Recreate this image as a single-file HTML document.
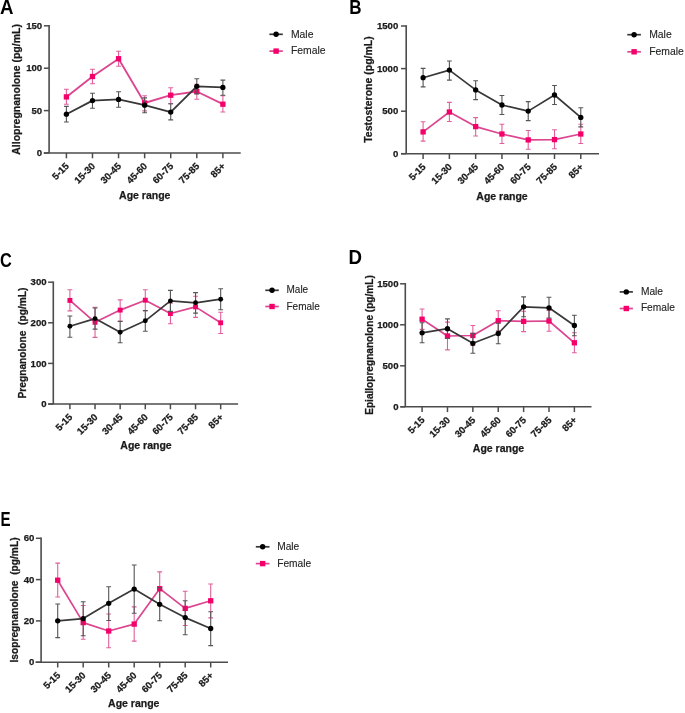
<!DOCTYPE html>
<html><head><meta charset="utf-8"><style>
html,body{margin:0;padding:0;background:#fff;}
body{width:685px;height:713px;overflow:hidden;}
svg{display:block;font-family:"Liberation Sans", sans-serif;filter:blur(0.45px);}
.t{stroke:#1a1a1a;stroke-width:0.25px;}
.l{stroke:#262626;stroke-width:0.12px;}
</style></head><body>
<svg width="685" height="713" viewBox="0 0 685 713">
<rect width="685" height="713" fill="#fff"/>
<text transform="translate(0 13.8) scale(1.1 1.17)" font-size="17" font-weight="bold" fill="#000">A</text>
<path d="M49.1 25.05V153M43.8 153H240.7" stroke="#4c4c4c" stroke-width="1.6" fill="none"/>
<path d="M43.9 25.8H49.1" stroke="#4c4c4c" stroke-width="1.5"/>
<text x="42.2" y="28.9" text-anchor="end" font-size="9.6" font-weight="bold" fill="#1a1a1a" class="t">150</text>
<path d="M43.9 68.2H49.1" stroke="#4c4c4c" stroke-width="1.5"/>
<text x="42.2" y="71.3" text-anchor="end" font-size="9.6" font-weight="bold" fill="#1a1a1a" class="t">100</text>
<path d="M43.9 110.6H49.1" stroke="#4c4c4c" stroke-width="1.5"/>
<text x="42.2" y="113.7" text-anchor="end" font-size="9.6" font-weight="bold" fill="#1a1a1a" class="t">50</text>
<path d="M43.9 153H49.1" stroke="#4c4c4c" stroke-width="1.5"/>
<text x="42.2" y="156.1" text-anchor="end" font-size="9.6" font-weight="bold" fill="#1a1a1a" class="t">0</text>
<path d="M66.4 153V158.3" stroke="#4c4c4c" stroke-width="1.5"/>
<text transform="translate(69.6 166.8) rotate(-45)" text-anchor="end" font-size="9.6" font-weight="bold" fill="#1a1a1a" class="t">5-15</text>
<path d="M92.48 153V158.3" stroke="#4c4c4c" stroke-width="1.5"/>
<text transform="translate(95.68 166.8) rotate(-45)" text-anchor="end" font-size="9.6" font-weight="bold" fill="#1a1a1a" class="t">15-30</text>
<path d="M118.56 153V158.3" stroke="#4c4c4c" stroke-width="1.5"/>
<text transform="translate(121.76 166.8) rotate(-45)" text-anchor="end" font-size="9.6" font-weight="bold" fill="#1a1a1a" class="t">30-45</text>
<path d="M144.64 153V158.3" stroke="#4c4c4c" stroke-width="1.5"/>
<text transform="translate(147.84 166.8) rotate(-45)" text-anchor="end" font-size="9.6" font-weight="bold" fill="#1a1a1a" class="t">45-60</text>
<path d="M170.72 153V158.3" stroke="#4c4c4c" stroke-width="1.5"/>
<text transform="translate(173.92 166.8) rotate(-45)" text-anchor="end" font-size="9.6" font-weight="bold" fill="#1a1a1a" class="t">60-75</text>
<path d="M196.8 153V158.3" stroke="#4c4c4c" stroke-width="1.5"/>
<text transform="translate(200 166.8) rotate(-45)" text-anchor="end" font-size="9.6" font-weight="bold" fill="#1a1a1a" class="t">75-85</text>
<path d="M222.88 153V158.3" stroke="#4c4c4c" stroke-width="1.5"/>
<text transform="translate(226.08 166.8) rotate(-45)" text-anchor="end" font-size="9.6" font-weight="bold" fill="#1a1a1a" class="t">85+</text>
<text transform="translate(20 89.4) rotate(-90)" text-anchor="middle" font-size="10.5" font-weight="bold" fill="#1a1a1a" class="t" xml:space="preserve">Allopregnanolone (pg/mL)</text>
<text x="144.8" y="198.6" text-anchor="middle" font-size="10.5" font-weight="bold" fill="#1a1a1a" class="t">Age range</text>
<path d="M66.4 89.3V104.2M64 89.3H68.8M64 104.2H68.8M92.48 69.2V83.8M90.08 69.2H94.88M90.08 83.8H94.88M118.56 51.2V66.3M116.16 51.2H120.96M116.16 66.3H120.96M144.64 95.8V110.9M142.24 95.8H147.04M142.24 110.9H147.04M170.72 87.7V103.8M168.32 87.7H173.12M168.32 103.8H173.12M196.8 84.3V99.2M194.4 84.3H199.2M194.4 99.2H199.2M222.88 95.8V112M220.48 95.8H225.28M220.48 112H225.28" stroke="#E0609E" stroke-width="1.1" fill="none"/>
<polyline points="66.4,96.9 92.48,76.5 118.56,58.7 144.64,103 170.72,95.2 196.8,91.5 222.88,104.2" stroke="#DC4590" stroke-width="1.85" fill="none" stroke-linejoin="round"/>
<rect x="63.75" y="94.25" width="5.3" height="5.3" fill="#F5006A"/>
<rect x="89.83" y="73.85" width="5.3" height="5.3" fill="#F5006A"/>
<rect x="115.91" y="56.05" width="5.3" height="5.3" fill="#F5006A"/>
<rect x="141.99" y="100.35" width="5.3" height="5.3" fill="#F5006A"/>
<rect x="168.07" y="92.55" width="5.3" height="5.3" fill="#F5006A"/>
<rect x="194.15" y="88.85" width="5.3" height="5.3" fill="#F5006A"/>
<rect x="220.23" y="101.55" width="5.3" height="5.3" fill="#F5006A"/>
<path d="M66.4 106.4V122M64 106.4H68.8M64 122H68.8M92.48 93.3V108.2M90.08 93.3H94.88M90.08 108.2H94.88M118.56 91.8V107.2M116.16 91.8H120.96M116.16 107.2H120.96M144.64 97.9V112.8M142.24 97.9H147.04M142.24 112.8H147.04M170.72 103.8V119.9M168.32 103.8H173.12M168.32 119.9H173.12M196.8 78.7V93.9M194.4 78.7H199.2M194.4 93.9H199.2M222.88 80.1V95.2M220.48 80.1H225.28M220.48 95.2H225.28" stroke="#555" stroke-width="1.1" fill="none"/>
<polyline points="66.4,114.2 92.48,100.6 118.56,99.4 144.64,105.2 170.72,112.1 196.8,86.3 222.88,87.4" stroke="#383838" stroke-width="1.85" fill="none" stroke-linejoin="round"/>
<circle cx="66.4" cy="114.2" r="2.65" fill="#000"/>
<circle cx="92.48" cy="100.6" r="2.65" fill="#000"/>
<circle cx="118.56" cy="99.4" r="2.65" fill="#000"/>
<circle cx="144.64" cy="105.2" r="2.65" fill="#000"/>
<circle cx="170.72" cy="112.1" r="2.65" fill="#000"/>
<circle cx="196.8" cy="86.3" r="2.65" fill="#000"/>
<circle cx="222.88" cy="87.4" r="2.65" fill="#000"/>
<path d="M269.4 34.3H282.8" stroke="#383838" stroke-width="1.7"/>
<circle cx="276.1" cy="34.3" r="2.7" fill="#000"/>
<path d="M269.4 51.1H282.8" stroke="#DC4590" stroke-width="1.7"/>
<rect x="273.4" y="48.4" width="5.4" height="5.4" fill="#F5006A"/>
<text x="290.9" y="37.6" font-size="10.4" fill="#262626" class="l">Male</text>
<text x="290.9" y="54.4" font-size="10.4" fill="#262626" class="l">Female</text>
<text transform="translate(349.2 14.1) scale(1.0 1.17)" font-size="17" font-weight="bold" fill="#000">B</text>
<path d="M406.2 25.25V153.7M401 153.7H599" stroke="#4c4c4c" stroke-width="1.6" fill="none"/>
<path d="M401 26H406.2" stroke="#4c4c4c" stroke-width="1.5"/>
<text x="398.3" y="29.1" text-anchor="end" font-size="9.6" font-weight="bold" fill="#1a1a1a" class="t">1500</text>
<path d="M401 68.6H406.2" stroke="#4c4c4c" stroke-width="1.5"/>
<text x="398.3" y="71.7" text-anchor="end" font-size="9.6" font-weight="bold" fill="#1a1a1a" class="t">1000</text>
<path d="M401 111.2H406.2" stroke="#4c4c4c" stroke-width="1.5"/>
<text x="398.3" y="114.3" text-anchor="end" font-size="9.6" font-weight="bold" fill="#1a1a1a" class="t">500</text>
<path d="M401 153.7H406.2" stroke="#4c4c4c" stroke-width="1.5"/>
<text x="398.3" y="156.8" text-anchor="end" font-size="9.6" font-weight="bold" fill="#1a1a1a" class="t">0</text>
<path d="M423.1 153.7V159" stroke="#4c4c4c" stroke-width="1.5"/>
<text transform="translate(426.3 167.5) rotate(-45)" text-anchor="end" font-size="9.6" font-weight="bold" fill="#1a1a1a" class="t">5-15</text>
<path d="M449.38 153.7V159" stroke="#4c4c4c" stroke-width="1.5"/>
<text transform="translate(452.58 167.5) rotate(-45)" text-anchor="end" font-size="9.6" font-weight="bold" fill="#1a1a1a" class="t">15-30</text>
<path d="M475.66 153.7V159" stroke="#4c4c4c" stroke-width="1.5"/>
<text transform="translate(478.86 167.5) rotate(-45)" text-anchor="end" font-size="9.6" font-weight="bold" fill="#1a1a1a" class="t">30-45</text>
<path d="M501.94 153.7V159" stroke="#4c4c4c" stroke-width="1.5"/>
<text transform="translate(505.14 167.5) rotate(-45)" text-anchor="end" font-size="9.6" font-weight="bold" fill="#1a1a1a" class="t">45-60</text>
<path d="M528.22 153.7V159" stroke="#4c4c4c" stroke-width="1.5"/>
<text transform="translate(531.42 167.5) rotate(-45)" text-anchor="end" font-size="9.6" font-weight="bold" fill="#1a1a1a" class="t">60-75</text>
<path d="M554.5 153.7V159" stroke="#4c4c4c" stroke-width="1.5"/>
<text transform="translate(557.7 167.5) rotate(-45)" text-anchor="end" font-size="9.6" font-weight="bold" fill="#1a1a1a" class="t">75-85</text>
<path d="M580.78 153.7V159" stroke="#4c4c4c" stroke-width="1.5"/>
<text transform="translate(583.98 167.5) rotate(-45)" text-anchor="end" font-size="9.6" font-weight="bold" fill="#1a1a1a" class="t">85+</text>
<text transform="translate(371.9 89.5) rotate(-90)" text-anchor="middle" font-size="10.5" font-weight="bold" fill="#1a1a1a" class="t" xml:space="preserve">Testosterone (pg/mL)</text>
<text x="502" y="200.4" text-anchor="middle" font-size="10.5" font-weight="bold" fill="#1a1a1a" class="t">Age range</text>
<path d="M423.1 121.8V141.1M420.7 121.8H425.5M420.7 141.1H425.5M449.38 102.4V121.5M446.98 102.4H451.78M446.98 121.5H451.78M475.66 117.6V136M473.26 117.6H478.06M473.26 136H478.06M501.94 124.2V143.5M499.54 124.2H504.34M499.54 143.5H504.34M528.22 130.5V149.3M525.82 130.5H530.62M525.82 149.3H530.62M554.5 129.8V148.8M552.1 129.8H556.9M552.1 148.8H556.9M580.78 124.2V143.5M578.38 124.2H583.18M578.38 143.5H583.18" stroke="#E0609E" stroke-width="1.1" fill="none"/>
<polyline points="423.1,131.9 449.38,112 475.66,126.6 501.94,134 528.22,139.9 554.5,139.6 580.78,134" stroke="#DC4590" stroke-width="1.7" fill="none" stroke-linejoin="round"/>
<rect x="420.45" y="129.25" width="5.3" height="5.3" fill="#F5006A"/>
<rect x="446.73" y="109.35" width="5.3" height="5.3" fill="#F5006A"/>
<rect x="473.01" y="123.95" width="5.3" height="5.3" fill="#F5006A"/>
<rect x="499.29" y="131.35" width="5.3" height="5.3" fill="#F5006A"/>
<rect x="525.57" y="137.25" width="5.3" height="5.3" fill="#F5006A"/>
<rect x="551.85" y="136.95" width="5.3" height="5.3" fill="#F5006A"/>
<rect x="578.13" y="131.35" width="5.3" height="5.3" fill="#F5006A"/>
<path d="M423.1 68.4V86.9M420.7 68.4H425.5M420.7 86.9H425.5M449.38 61V80.1M446.98 61H451.78M446.98 80.1H451.78M475.66 80.7V99.6M473.26 80.7H478.06M473.26 99.6H478.06M501.94 95.5V114.5M499.54 95.5H504.34M499.54 114.5H504.34M528.22 101.6V120.6M525.82 101.6H530.62M525.82 120.6H530.62M554.5 85.5V104.5M552.1 85.5H556.9M552.1 104.5H556.9M580.78 107.7V126.9M578.38 107.7H583.18M578.38 126.9H583.18" stroke="#555" stroke-width="1.1" fill="none"/>
<polyline points="423.1,77.7 449.38,70.1 475.66,89.9 501.94,105 528.22,111.1 554.5,95 580.78,117.4" stroke="#383838" stroke-width="1.7" fill="none" stroke-linejoin="round"/>
<circle cx="423.1" cy="77.7" r="2.65" fill="#000"/>
<circle cx="449.38" cy="70.1" r="2.65" fill="#000"/>
<circle cx="475.66" cy="89.9" r="2.65" fill="#000"/>
<circle cx="501.94" cy="105" r="2.65" fill="#000"/>
<circle cx="528.22" cy="111.1" r="2.65" fill="#000"/>
<circle cx="554.5" cy="95" r="2.65" fill="#000"/>
<circle cx="580.78" cy="117.4" r="2.65" fill="#000"/>
<path d="M627.3 34.7H640.9" stroke="#383838" stroke-width="1.7"/>
<circle cx="634.1" cy="34.7" r="2.7" fill="#000"/>
<path d="M627.3 51.8H640.9" stroke="#DC4590" stroke-width="1.7"/>
<rect x="631.4" y="49.1" width="5.4" height="5.4" fill="#F5006A"/>
<text x="649.2" y="38.1" font-size="10.4" fill="#262626" class="l">Male</text>
<text x="649.2" y="54.9" font-size="10.4" fill="#262626" class="l">Female</text>
<text transform="translate(0 267.4) scale(0.96 1.16)" font-size="17" font-weight="bold" fill="#000">C</text>
<path d="M53.3 281.45V404M48.2 404H238.1" stroke="#4c4c4c" stroke-width="1.6" fill="none"/>
<path d="M48.1 282.2H53.3" stroke="#4c4c4c" stroke-width="1.5"/>
<text x="46.6" y="285.3" text-anchor="end" font-size="9.6" font-weight="bold" fill="#1a1a1a" class="t">300</text>
<path d="M48.1 322.8H53.3" stroke="#4c4c4c" stroke-width="1.5"/>
<text x="46.6" y="325.9" text-anchor="end" font-size="9.6" font-weight="bold" fill="#1a1a1a" class="t">200</text>
<path d="M48.1 363.4H53.3" stroke="#4c4c4c" stroke-width="1.5"/>
<text x="46.6" y="366.5" text-anchor="end" font-size="9.6" font-weight="bold" fill="#1a1a1a" class="t">100</text>
<path d="M48.1 404H53.3" stroke="#4c4c4c" stroke-width="1.5"/>
<text x="46.6" y="407.1" text-anchor="end" font-size="9.6" font-weight="bold" fill="#1a1a1a" class="t">0</text>
<path d="M69.9 404V409.3" stroke="#4c4c4c" stroke-width="1.5"/>
<text transform="translate(73.1 417.8) rotate(-45)" text-anchor="end" font-size="9.6" font-weight="bold" fill="#1a1a1a" class="t">5-15</text>
<path d="M95.03 404V409.3" stroke="#4c4c4c" stroke-width="1.5"/>
<text transform="translate(98.23 417.8) rotate(-45)" text-anchor="end" font-size="9.6" font-weight="bold" fill="#1a1a1a" class="t">15-30</text>
<path d="M120.16 404V409.3" stroke="#4c4c4c" stroke-width="1.5"/>
<text transform="translate(123.36 417.8) rotate(-45)" text-anchor="end" font-size="9.6" font-weight="bold" fill="#1a1a1a" class="t">30-45</text>
<path d="M145.29 404V409.3" stroke="#4c4c4c" stroke-width="1.5"/>
<text transform="translate(148.49 417.8) rotate(-45)" text-anchor="end" font-size="9.6" font-weight="bold" fill="#1a1a1a" class="t">45-60</text>
<path d="M170.42 404V409.3" stroke="#4c4c4c" stroke-width="1.5"/>
<text transform="translate(173.62 417.8) rotate(-45)" text-anchor="end" font-size="9.6" font-weight="bold" fill="#1a1a1a" class="t">60-75</text>
<path d="M195.55 404V409.3" stroke="#4c4c4c" stroke-width="1.5"/>
<text transform="translate(198.75 417.8) rotate(-45)" text-anchor="end" font-size="9.6" font-weight="bold" fill="#1a1a1a" class="t">75-85</text>
<path d="M220.68 404V409.3" stroke="#4c4c4c" stroke-width="1.5"/>
<text transform="translate(223.88 417.8) rotate(-45)" text-anchor="end" font-size="9.6" font-weight="bold" fill="#1a1a1a" class="t">85+</text>
<text transform="translate(25.6 343) rotate(-90)" text-anchor="middle" font-size="10.2" font-weight="bold" fill="#1a1a1a" class="t" xml:space="preserve">Pregnanolone  (pg/mL)</text>
<text x="146" y="448.8" text-anchor="middle" font-size="10.5" font-weight="bold" fill="#1a1a1a" class="t">Age range</text>
<path d="M69.9 289.7V310.9M67.5 289.7H72.3M67.5 310.9H72.3M95.03 307.2V337.4M92.63 307.2H97.43M92.63 337.4H97.43M120.16 299.9V321.4M117.76 299.9H122.56M117.76 321.4H122.56M145.29 289.7V310.6M142.89 289.7H147.69M142.89 310.6H147.69M170.42 303.3V323.7M168.02 303.3H172.82M168.02 323.7H172.82M195.55 296.3V317.4M193.15 296.3H197.95M193.15 317.4H197.95M220.68 312.3V333.5M218.28 312.3H223.08M218.28 333.5H223.08" stroke="#E0609E" stroke-width="1.1" fill="none"/>
<polyline points="69.9,300.4 95.03,322.3 120.16,310.1 145.29,300.2 170.42,313.5 195.55,306.9 220.68,322.8" stroke="#DC4590" stroke-width="1.7" fill="none" stroke-linejoin="round"/>
<rect x="67.45" y="297.95" width="4.9" height="4.9" fill="#F5006A"/>
<rect x="92.58" y="319.85" width="4.9" height="4.9" fill="#F5006A"/>
<rect x="117.71" y="307.65" width="4.9" height="4.9" fill="#F5006A"/>
<rect x="142.84" y="297.75" width="4.9" height="4.9" fill="#F5006A"/>
<rect x="167.97" y="311.05" width="4.9" height="4.9" fill="#F5006A"/>
<rect x="193.1" y="304.45" width="4.9" height="4.9" fill="#F5006A"/>
<rect x="218.23" y="320.35" width="4.9" height="4.9" fill="#F5006A"/>
<path d="M69.9 316V337.2M67.5 316H72.3M67.5 337.2H72.3M95.03 308V329.1M92.63 308H97.43M92.63 329.1H97.43M120.16 321.4V342.7M117.76 321.4H122.56M117.76 342.7H122.56M145.29 310.6V331.3M142.89 310.6H147.69M142.89 331.3H147.69M170.42 290.4V311.4M168.02 290.4H172.82M168.02 311.4H172.82M195.55 292.6V313.1M193.15 292.6H197.95M193.15 313.1H197.95M220.68 288.7V309.7M218.28 288.7H223.08M218.28 309.7H223.08" stroke="#555" stroke-width="1.1" fill="none"/>
<polyline points="69.9,326.2 95.03,318.6 120.16,332.3 145.29,320.8 170.42,300.9 195.55,302.8 220.68,299.2" stroke="#383838" stroke-width="1.7" fill="none" stroke-linejoin="round"/>
<circle cx="69.9" cy="326.2" r="2.45" fill="#000"/>
<circle cx="95.03" cy="318.6" r="2.45" fill="#000"/>
<circle cx="120.16" cy="332.3" r="2.45" fill="#000"/>
<circle cx="145.29" cy="320.8" r="2.45" fill="#000"/>
<circle cx="170.42" cy="300.9" r="2.45" fill="#000"/>
<circle cx="195.55" cy="302.8" r="2.45" fill="#000"/>
<circle cx="220.68" cy="299.2" r="2.45" fill="#000"/>
<path d="M265.3 290.3H278.8" stroke="#383838" stroke-width="1.7"/>
<circle cx="272.05" cy="290.3" r="2.7" fill="#000"/>
<path d="M265.3 306.5H278.8" stroke="#DC4590" stroke-width="1.7"/>
<rect x="269.35" y="303.8" width="5.4" height="5.4" fill="#F5006A"/>
<text x="286.5" y="293.4" font-size="10.0" fill="#262626" class="l">Male</text>
<text x="286.5" y="309.7" font-size="10.0" fill="#262626" class="l">Female</text>
<text transform="translate(348.6 264) scale(1.1 1.17)" font-size="17" font-weight="bold" fill="#000">D</text>
<path d="M405.3 283.05V406.8M400.6 406.8H591.5" stroke="#4c4c4c" stroke-width="1.6" fill="none"/>
<path d="M400.1 283.8H405.3" stroke="#4c4c4c" stroke-width="1.5"/>
<text x="398.5" y="286.9" text-anchor="end" font-size="9.6" font-weight="bold" fill="#1a1a1a" class="t">1500</text>
<path d="M400.1 324.8H405.3" stroke="#4c4c4c" stroke-width="1.5"/>
<text x="398.5" y="327.9" text-anchor="end" font-size="9.6" font-weight="bold" fill="#1a1a1a" class="t">1000</text>
<path d="M400.1 365.8H405.3" stroke="#4c4c4c" stroke-width="1.5"/>
<text x="398.5" y="368.9" text-anchor="end" font-size="9.6" font-weight="bold" fill="#1a1a1a" class="t">500</text>
<path d="M400.1 406.8H405.3" stroke="#4c4c4c" stroke-width="1.5"/>
<text x="398.5" y="409.9" text-anchor="end" font-size="9.6" font-weight="bold" fill="#1a1a1a" class="t">0</text>
<path d="M422.1 406.8V412.1" stroke="#4c4c4c" stroke-width="1.5"/>
<text transform="translate(425.3 420.6) rotate(-45)" text-anchor="end" font-size="9.6" font-weight="bold" fill="#1a1a1a" class="t">5-15</text>
<path d="M447.48 406.8V412.1" stroke="#4c4c4c" stroke-width="1.5"/>
<text transform="translate(450.68 420.6) rotate(-45)" text-anchor="end" font-size="9.6" font-weight="bold" fill="#1a1a1a" class="t">15-30</text>
<path d="M472.86 406.8V412.1" stroke="#4c4c4c" stroke-width="1.5"/>
<text transform="translate(476.06 420.6) rotate(-45)" text-anchor="end" font-size="9.6" font-weight="bold" fill="#1a1a1a" class="t">30-45</text>
<path d="M498.24 406.8V412.1" stroke="#4c4c4c" stroke-width="1.5"/>
<text transform="translate(501.44 420.6) rotate(-45)" text-anchor="end" font-size="9.6" font-weight="bold" fill="#1a1a1a" class="t">45-60</text>
<path d="M523.62 406.8V412.1" stroke="#4c4c4c" stroke-width="1.5"/>
<text transform="translate(526.82 420.6) rotate(-45)" text-anchor="end" font-size="9.6" font-weight="bold" fill="#1a1a1a" class="t">60-75</text>
<path d="M549 406.8V412.1" stroke="#4c4c4c" stroke-width="1.5"/>
<text transform="translate(552.2 420.6) rotate(-45)" text-anchor="end" font-size="9.6" font-weight="bold" fill="#1a1a1a" class="t">75-85</text>
<path d="M574.38 406.8V412.1" stroke="#4c4c4c" stroke-width="1.5"/>
<text transform="translate(577.58 420.6) rotate(-45)" text-anchor="end" font-size="9.6" font-weight="bold" fill="#1a1a1a" class="t">85+</text>
<text transform="translate(372.6 345) rotate(-90)" text-anchor="middle" font-size="10.1" font-weight="bold" fill="#1a1a1a" class="t" xml:space="preserve">Epiallopregnanolone (pg/mL)</text>
<text x="498.5" y="451.7" text-anchor="middle" font-size="10.5" font-weight="bold" fill="#1a1a1a" class="t">Age range</text>
<path d="M422.1 309V329.4M419.7 309H424.5M419.7 329.4H424.5M447.48 322.1V349.9M445.08 322.1H449.88M445.08 349.9H449.88M472.86 325.5V345.5M470.46 325.5H475.26M470.46 345.5H475.26M498.24 310.7V330.7M495.84 310.7H500.64M495.84 330.7H500.64M523.62 311.2V331.6M521.22 311.2H526.02M521.22 331.6H526.02M549 310.4V331.3M546.6 310.4H551.4M546.6 331.3H551.4M574.38 332.8V352.8M571.98 332.8H576.78M571.98 352.8H576.78" stroke="#E0609E" stroke-width="1.1" fill="none"/>
<polyline points="422.1,319.2 447.48,336 472.86,335.5 498.24,320.7 523.62,321.4 549,321 574.38,342.8" stroke="#DC4590" stroke-width="1.7" fill="none" stroke-linejoin="round"/>
<rect x="419.45" y="316.55" width="5.3" height="5.3" fill="#F5006A"/>
<rect x="444.83" y="333.35" width="5.3" height="5.3" fill="#F5006A"/>
<rect x="470.21" y="332.85" width="5.3" height="5.3" fill="#F5006A"/>
<rect x="495.59" y="318.05" width="5.3" height="5.3" fill="#F5006A"/>
<rect x="520.97" y="318.75" width="5.3" height="5.3" fill="#F5006A"/>
<rect x="546.35" y="318.35" width="5.3" height="5.3" fill="#F5006A"/>
<rect x="571.73" y="340.15" width="5.3" height="5.3" fill="#F5006A"/>
<path d="M422.1 322.8V342.8M419.7 322.8H424.5M419.7 342.8H424.5M447.48 318.9V338.5M445.08 318.9H449.88M445.08 338.5H449.88M472.86 333.4V353.2M470.46 333.4H475.26M470.46 353.2H475.26M498.24 323.3V343.7M495.84 323.3H500.64M495.84 343.7H500.64M523.62 296.9V316.7M521.22 296.9H526.02M521.22 316.7H526.02M549 297.3V318M546.6 297.3H551.4M546.6 318H551.4M574.38 315.3V335.7M571.98 315.3H576.78M571.98 335.7H576.78" stroke="#555" stroke-width="1.1" fill="none"/>
<polyline points="422.1,332.8 447.48,328.7 472.86,343.3 498.24,333.5 523.62,306.8 549,307.8 574.38,325.5" stroke="#383838" stroke-width="1.7" fill="none" stroke-linejoin="round"/>
<circle cx="422.1" cy="332.8" r="2.65" fill="#000"/>
<circle cx="447.48" cy="328.7" r="2.65" fill="#000"/>
<circle cx="472.86" cy="343.3" r="2.65" fill="#000"/>
<circle cx="498.24" cy="333.5" r="2.65" fill="#000"/>
<circle cx="523.62" cy="306.8" r="2.65" fill="#000"/>
<circle cx="549" cy="307.8" r="2.65" fill="#000"/>
<circle cx="574.38" cy="325.5" r="2.65" fill="#000"/>
<path d="M619.7 291.9H632.9" stroke="#383838" stroke-width="1.7"/>
<circle cx="626.3" cy="291.9" r="2.7" fill="#000"/>
<path d="M619.7 308.5H632.9" stroke="#DC4590" stroke-width="1.7"/>
<rect x="623.6" y="305.8" width="5.4" height="5.4" fill="#F5006A"/>
<text x="640.9" y="294.8" font-size="10.2" fill="#262626" class="l">Male</text>
<text x="640.9" y="311.3" font-size="10.2" fill="#262626" class="l">Female</text>
<text transform="translate(0.4 525.9) scale(0.89 1.19)" font-size="17" font-weight="bold" fill="#000">E</text>
<path d="M41.1 537.55V662.2M35.6 662.2H228" stroke="#4c4c4c" stroke-width="1.6" fill="none"/>
<path d="M35.9 538.3H41.1" stroke="#4c4c4c" stroke-width="1.5"/>
<text x="34.4" y="541.4" text-anchor="end" font-size="9.6" font-weight="bold" fill="#1a1a1a" class="t">60</text>
<path d="M35.9 579.6H41.1" stroke="#4c4c4c" stroke-width="1.5"/>
<text x="34.4" y="582.7" text-anchor="end" font-size="9.6" font-weight="bold" fill="#1a1a1a" class="t">40</text>
<path d="M35.9 620.9H41.1" stroke="#4c4c4c" stroke-width="1.5"/>
<text x="34.4" y="624" text-anchor="end" font-size="9.6" font-weight="bold" fill="#1a1a1a" class="t">20</text>
<path d="M35.9 662.2H41.1" stroke="#4c4c4c" stroke-width="1.5"/>
<text x="34.4" y="665.3" text-anchor="end" font-size="9.6" font-weight="bold" fill="#1a1a1a" class="t">0</text>
<path d="M57.7 662.2V667.5" stroke="#4c4c4c" stroke-width="1.5"/>
<text transform="translate(60.9 676) rotate(-45)" text-anchor="end" font-size="9.6" font-weight="bold" fill="#1a1a1a" class="t">5-15</text>
<path d="M83.2 662.2V667.5" stroke="#4c4c4c" stroke-width="1.5"/>
<text transform="translate(86.4 676) rotate(-45)" text-anchor="end" font-size="9.6" font-weight="bold" fill="#1a1a1a" class="t">15-30</text>
<path d="M108.7 662.2V667.5" stroke="#4c4c4c" stroke-width="1.5"/>
<text transform="translate(111.9 676) rotate(-45)" text-anchor="end" font-size="9.6" font-weight="bold" fill="#1a1a1a" class="t">30-45</text>
<path d="M134.2 662.2V667.5" stroke="#4c4c4c" stroke-width="1.5"/>
<text transform="translate(137.4 676) rotate(-45)" text-anchor="end" font-size="9.6" font-weight="bold" fill="#1a1a1a" class="t">45-60</text>
<path d="M159.7 662.2V667.5" stroke="#4c4c4c" stroke-width="1.5"/>
<text transform="translate(162.9 676) rotate(-45)" text-anchor="end" font-size="9.6" font-weight="bold" fill="#1a1a1a" class="t">60-75</text>
<path d="M185.2 662.2V667.5" stroke="#4c4c4c" stroke-width="1.5"/>
<text transform="translate(188.4 676) rotate(-45)" text-anchor="end" font-size="9.6" font-weight="bold" fill="#1a1a1a" class="t">75-85</text>
<path d="M210.7 662.2V667.5" stroke="#4c4c4c" stroke-width="1.5"/>
<text transform="translate(213.9 676) rotate(-45)" text-anchor="end" font-size="9.6" font-weight="bold" fill="#1a1a1a" class="t">85+</text>
<text transform="translate(18.4 600) rotate(-90)" text-anchor="middle" font-size="10.2" font-weight="bold" fill="#1a1a1a" class="t" xml:space="preserve">Isopregnanolone  (pg/mL)</text>
<text x="133.8" y="707.2" text-anchor="middle" font-size="10.5" font-weight="bold" fill="#1a1a1a" class="t">Age range</text>
<path d="M57.7 563.1V597M55.3 563.1H60.1M55.3 597H60.1M83.2 605.5V639.3M80.8 605.5H85.6M80.8 639.3H85.6M108.7 614V647.8M106.3 614H111.1M106.3 647.8H111.1M134.2 606.9V641.1M131.8 606.9H136.6M131.8 641.1H136.6M159.7 571.9V605.5M157.3 571.9H162.1M157.3 605.5H162.1M185.2 591.3V625.5M182.8 591.3H187.6M182.8 625.5H187.6M210.7 584V617.9M208.3 584H213.1M208.3 617.9H213.1" stroke="#E0609E" stroke-width="1.1" fill="none"/>
<polyline points="57.7,580.2 83.2,622.6 108.7,631 134.2,624.1 159.7,588.7 185.2,608.4 210.7,600.8" stroke="#DC4590" stroke-width="1.7" fill="none" stroke-linejoin="round"/>
<rect x="55.05" y="577.55" width="5.3" height="5.3" fill="#F5006A"/>
<rect x="80.55" y="619.95" width="5.3" height="5.3" fill="#F5006A"/>
<rect x="106.05" y="628.35" width="5.3" height="5.3" fill="#F5006A"/>
<rect x="131.55" y="621.45" width="5.3" height="5.3" fill="#F5006A"/>
<rect x="157.05" y="586.05" width="5.3" height="5.3" fill="#F5006A"/>
<rect x="182.55" y="605.75" width="5.3" height="5.3" fill="#F5006A"/>
<rect x="208.05" y="598.15" width="5.3" height="5.3" fill="#F5006A"/>
<path d="M57.7 604V637.6M55.3 604H60.1M55.3 637.6H60.1M83.2 601.8V635.8M80.8 601.8H85.6M80.8 635.8H85.6M108.7 586.8V620.5M106.3 586.8H111.1M106.3 620.5H111.1M134.2 565V613.2M131.8 565H136.6M131.8 613.2H136.6M159.7 587.8V620.8M157.3 587.8H162.1M157.3 620.8H162.1M185.2 600.8V634.7M182.8 600.8H187.6M182.8 634.7H187.6M210.7 611.8V645.6M208.3 611.8H213.1M208.3 645.6H213.1" stroke="#555" stroke-width="1.1" fill="none"/>
<polyline points="57.7,620.8 83.2,618.6 108.7,603.3 134.2,589.1 159.7,604.3 185.2,617.6 210.7,628.5" stroke="#383838" stroke-width="1.7" fill="none" stroke-linejoin="round"/>
<circle cx="57.7" cy="620.8" r="2.65" fill="#000"/>
<circle cx="83.2" cy="618.6" r="2.65" fill="#000"/>
<circle cx="108.7" cy="603.3" r="2.65" fill="#000"/>
<circle cx="134.2" cy="589.1" r="2.65" fill="#000"/>
<circle cx="159.7" cy="604.3" r="2.65" fill="#000"/>
<circle cx="185.2" cy="617.6" r="2.65" fill="#000"/>
<circle cx="210.7" cy="628.5" r="2.65" fill="#000"/>
<path d="M255.8 546.8H269.5" stroke="#383838" stroke-width="1.7"/>
<circle cx="262.65" cy="546.8" r="2.7" fill="#000"/>
<path d="M255.8 563.6H269.5" stroke="#DC4590" stroke-width="1.7"/>
<rect x="259.95" y="560.9" width="5.4" height="5.4" fill="#F5006A"/>
<text x="277.2" y="550" font-size="10.2" fill="#262626" class="l">Male</text>
<text x="277.2" y="566.5" font-size="10.2" fill="#262626" class="l">Female</text>
</svg>
</body></html>
